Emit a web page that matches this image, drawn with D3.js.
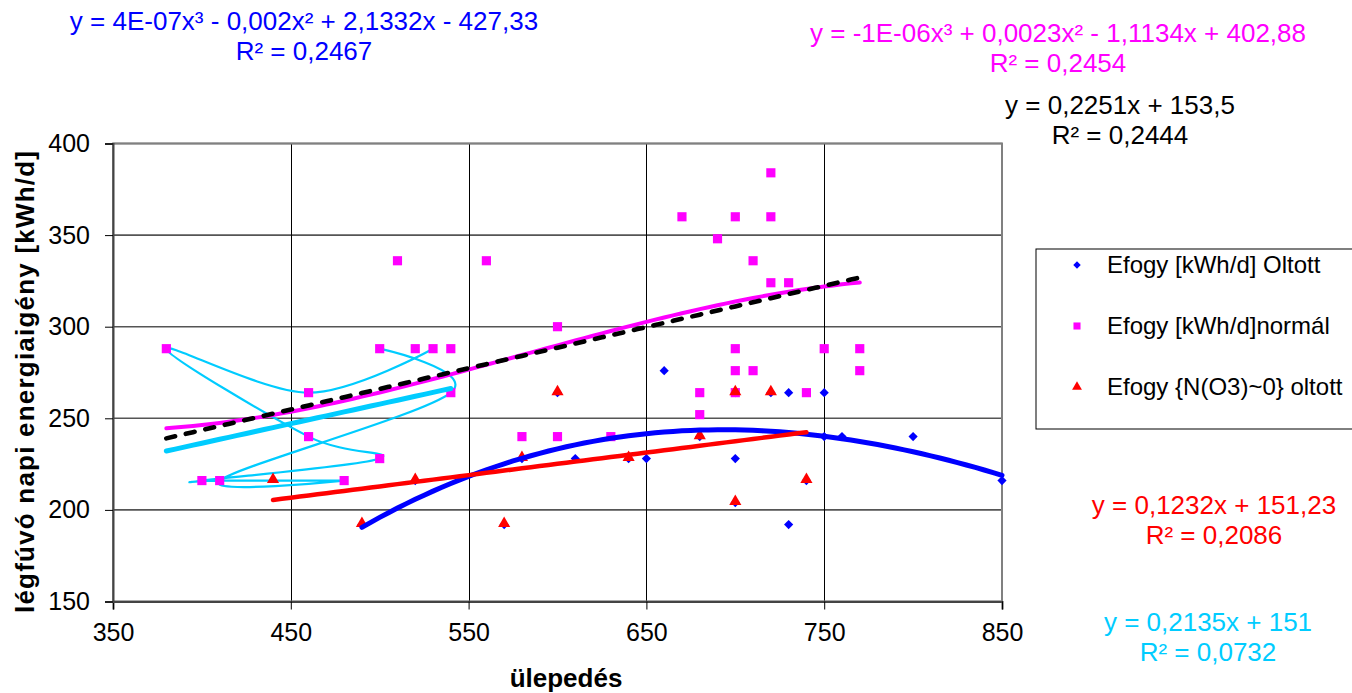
<!DOCTYPE html>
<html>
<head>
<meta charset="utf-8">
<script src="https://cdn.jsdelivr.net/npm/d3@7"></script>
<style>
  body { margin: 0; background: #fff; }
  text { font-family: Arial, "Liberation Sans", sans-serif; }
</style>
</head>
<body>
<svg id="chart" width="1352" height="693"></svg>
<script>
// Tick values
var xTicks = [350, 450, 550, 650, 750, 850];
var yTicks = [150, 200, 250, 300, 350, 400];

// Efogy [kWh/d] Oltott
var oltottX = [490, 520, 570, 580, 600, 610, 640, 650, 660, 680, 700, 700, 700, 720, 730, 730, 740, 750, 750, 760, 800, 850];
var oltottY = [192, 216, 192, 228, 264, 228, 228, 228, 276, 240, 204, 228, 264, 264, 264, 192, 216, 264, 240, 240, 240, 216];

// Efogy [kWh/d]normál
var normalX = [380, 400, 410, 460, 460, 480, 500, 500, 510, 520, 530, 540, 540, 560, 580, 600, 600, 630, 670, 680, 680, 690,
               700, 700, 700, 700, 710, 710, 720, 720, 720, 730, 740, 750, 770, 770];
var normalY = [288, 216, 216, 264, 240, 216, 288, 228, 336, 288, 288, 288, 264, 336, 240, 300, 240, 240, 360, 264, 252, 348,
               360, 288, 276, 264, 336, 276, 384, 360, 324, 324, 264, 288, 288, 276];

// Efogy {N(O3)~0} oltott
var nO3X = [440, 490, 520, 570, 580, 600, 640, 680, 700, 700, 720, 740];
var nO3Y = [216, 192, 216, 192, 228, 264, 228, 240, 204, 264, 264, 216];

// smoothed cyan series (line only)
var cyanX = [530, 460, 380, 460, 500, 400, 410, 480, 410, 540, 500];
var cyanY = [288, 264, 288, 240, 228, 216, 216, 216, 216, 264, 288];

// trendlines: polynomial coefficients (in t = (x - center) / 100) and x range
var blueTrendCoef = [241.6, 10.15, -12.35, 0.8], blueTrendCenter = 650, blueTrendRange = [490, 850];
var magentaTrendCoef = [283.2, 26.6, 0.3, -1.63], magentaTrendCenter = 575, magentaTrendRange = [380, 770];
var blackTrendCoef = [153.5, 0.2251], blackTrendRange = [380, 770];
var redTrendCoef = [151.23, 0.1232], redTrendRange = [440, 740];
var cyanTrendCoef = [151, 0.2135], cyanTrendRange = [380, 540];

var svg = d3.select("#chart");
var plotL = 113, plotR = 1002, plotT = 143.5, plotB = 601.5;

var x = d3.scaleLinear().domain([350, 850]).range([plotL, plotR]);
var y = d3.scaleLinear().domain([150, 400]).range([plotB, plotT]);

// gridlines
var grid = svg.append("g").attr("stroke", "#000").attr("stroke-width", 1);
grid.selectAll(".hg").data(yTicks).enter().append("line")
    .attr("x1", plotL).attr("x2", plotR)
    .attr("y1", function (d) { return y(d); }).attr("y2", function (d) { return y(d); })
    .attr("stroke", "#555").attr("stroke-width", 1.6);
grid.selectAll(".vg").data(xTicks).enter().append("line")
    .attr("x1", function (d) { return Math.round(x(d)) + 0.5; }).attr("x2", function (d) { return Math.round(x(d)) + 0.5; })
    .attr("y1", plotT).attr("y2", plotB);

svg.append("rect")
    .attr("x", plotL).attr("y", plotT)
    .attr("width", plotR - plotL).attr("height", plotB - plotT)
    .attr("fill", "none").attr("stroke", "#808080").attr("stroke-width", 2);

// axes
var xAxis = svg.append("g").attr("transform", "translate(0," + plotB + ")")
    .call(d3.axisBottom(x).tickValues(xTicks).tickSize(8).tickPadding(14));
var yAxis = svg.append("g").attr("transform", "translate(" + plotL + ",0)")
    .call(d3.axisLeft(y).tickValues(yTicks).tickSize(8).tickPadding(15));
[xAxis, yAxis].forEach(function (a) {
    a.select(".domain").attr("stroke", "#444").attr("stroke-width", 2);
    a.selectAll(".tick line").attr("stroke", "#000");
    a.selectAll(".tick text").attr("font-size", 25).attr("fill", "#000")
        .style("font-family", "Arial, 'Liberation Sans', sans-serif");
});

// axis titles
svg.append("text").attr("x", 566).attr("y", 687).attr("text-anchor", "middle")
    .attr("font-size", 26).attr("font-weight", "bold").text("ülepedés");
svg.append("text").attr("transform", "translate(34,382) rotate(-90)").attr("text-anchor", "middle")
    .attr("font-size", 26).attr("font-weight", "bold")
    .attr("textLength", 462).attr("lengthAdjust", "spacing")
    .text("légfúvó napi energiaigény [kWh/d]");

// cyan smoothed line
var cyanPts = cyanX.map(function (d, i) { return [d, cyanY[i]]; });
svg.append("path").datum(cyanPts)
    .attr("fill", "none").attr("stroke", "#00CCFF").attr("stroke-width", 2.2)
    .attr("d", d3.line().x(function (d) { return x(d[0]); }).y(function (d) { return y(d[1]); })
        .curve(d3.curveCardinal.tension(0)));

// markers
var diamond = d3.symbol().type(d3.symbolDiamond2).size(54);
var square = d3.symbol().type(d3.symbolSquare).size(84);
var triangle = d3.symbol().type(d3.symbolTriangle).size(64);

svg.append("g").selectAll("path").data(oltottX).enter().append("path")
    .attr("transform", function (d, i) { return "translate(" + x(d) + "," + y(oltottY[i]) + ")"; })
    .attr("d", diamond).attr("fill", "#0000FF");
svg.append("g").selectAll("path").data(normalX).enter().append("path")
    .attr("transform", function (d, i) { return "translate(" + x(d) + "," + y(normalY[i]) + ")"; })
    .attr("d", square).attr("fill", "#FF00FF");
svg.append("g").selectAll("path").data(nO3X).enter().append("path")
    .attr("transform", function (d, i) { return "translate(" + x(d) + "," + (y(nO3Y[i]) - 1) + ")"; })
    .attr("d", triangle).attr("fill", "#FF0000");

// trendlines
function poly(coef, center, scale) {
    return function (v) {
        var t = (v - center) / scale, s = 0;
        for (var k = coef.length - 1; k >= 0; k--) s = s * t + coef[k];
        return s;
    };
}
function trend(f, range, color, width, dash) {
    var pts = d3.range(range[0], range[1] + 0.1, 5).map(function (v) { return [v, f(v)]; });
    svg.append("path").datum(pts)
        .attr("fill", "none").attr("stroke", color).attr("stroke-width", width)
        .attr("stroke-linecap", "round")
        .attr("stroke-dasharray", dash || null)
        .attr("d", d3.line().x(function (d) { return x(d[0]); }).y(function (d) { return y(d[1]); }));
}
trend(poly(blueTrendCoef, blueTrendCenter, 100), blueTrendRange, "#0000FF", 5);
trend(poly(redTrendCoef, 0, 1), redTrendRange, "#FF0000", 4.5);
trend(poly(magentaTrendCoef, magentaTrendCenter, 100), magentaTrendRange, "#FF00FF", 4);
trend(poly(blackTrendCoef, 0, 1), blackTrendRange, "#000", 4.6, "9,11");
trend(poly(cyanTrendCoef, 0, 1), cyanTrendRange, "#00CCFF", 5);

// trendline labels
var labels = [
    { c: "#0000FF", x: 304, y: 30, t: ["y = 4E-07x³ - 0,002x² + 2,1332x - 427,33", "R² = 0,2467"] },
    { c: "#FF00FF", x: 1058, y: 42, t: ["y = -1E-06x³ + 0,0023x² - 1,1134x + 402,88", "R² = 0,2454"] },
    { c: "#000000", x: 1120, y: 114, t: ["y = 0,2251x + 153,5", "R² = 0,2444"] },
    { c: "#FF0000", x: 1214, y: 514, t: ["y = 0,1232x + 151,23", "R² = 0,2086"] },
    { c: "#00CCFF", x: 1208, y: 631, t: ["y = 0,2135x + 151", "R² = 0,0732"] }
];
labels.forEach(function (l) {
    l.t.forEach(function (s, i) {
        svg.append("text").attr("x", l.x).attr("y", l.y + i * 30)
            .attr("text-anchor", "middle").attr("font-size", 26).attr("fill", l.c).text(s);
    });
});

// legend
var legend = svg.append("g");
legend.append("rect").attr("x", 1036).attr("y", 249).attr("width", 330).attr("height", 180)
    .attr("fill", "#fff").attr("stroke", "#000").attr("stroke-width", 1);
var legendItems = ["Efogy [kWh/d] Oltott", "Efogy [kWh/d]normál", "Efogy {N(O3)~0} oltott"];
var legendSymbols = [d3.symbol().type(d3.symbolDiamond2).size(36), d3.symbol().type(d3.symbolSquare).size(50), d3.symbol().type(d3.symbolTriangle).size(42)];
var legendColors = ["#0000FF", "#FF00FF", "#FF0000"];
legendItems.forEach(function (name, i) {
    var ly = 265 + i * 61;
    legend.append("path").attr("transform", "translate(1077," + ly + ")")
        .attr("d", legendSymbols[i]).attr("fill", legendColors[i]);
    legend.append("text").attr("x", 1107).attr("y", ly + 8).attr("font-size", 24).text(name);
});
</script>
</body>
</html>
